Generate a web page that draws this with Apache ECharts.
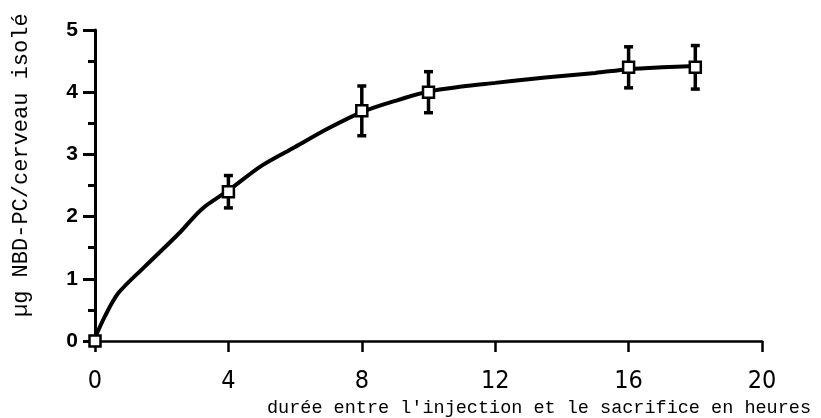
<!DOCTYPE html>
<html>
<head>
<meta charset="utf-8">
<script src="https://cdn.jsdelivr.net/npm/echarts@6/dist/echarts.min.js"></script>
<style>
  html, body { margin: 0; padding: 0; background: #fff; }
  #chart { width: 821px; height: 418px; }
</style>
</head>
<body>
<div id="chart"></div>
<script>
// Measured points: hours after injection, mean amount, and error half-width
const hours = [0, 4, 8, 10, 16, 18];
const means = [0, 2.4, 3.7, 4.0, 4.4, 4.4];
const errors = [0, 0.26, 0.4, 0.33, 0.33, 0.35];

// Fitted uptake curve
const fitHours = [0, 0.3, 0.7, 1.5, 2.5, 3.2, 4, 5, 6, 7, 8, 9, 10, 11, 12, 13, 14, 15, 16, 17, 18];
const fitValues = [0.05, 0.4, 0.77, 1.2, 1.72, 2.12, 2.42, 2.82, 3.12, 3.42, 3.68, 3.86, 4.01, 4.09, 4.15, 4.21, 4.26, 4.31, 4.37, 4.4, 4.42];

// Axis tick labels
const xTicks = [0, 4, 8, 12, 16, 20];
const yTicks = [0, 1, 2, 3, 4, 5];

const xTitle = "durée entre l'injection et le sacrifice en heures";
const yTitle = "µg NBD-PC/cerveau isolé";

const chart = echarts.init(document.getElementById('chart'), null, { renderer: 'canvas' });

const pointData = hours.map((h, i) => [h, means[i]]);
const errData = hours.map((h, i) => [h, means[i] - errors[i], means[i] + errors[i]]);
const fitData = fitHours.map((h, i) => [h, fitValues[i]]);

chart.setOption({
  animation: false,
  backgroundColor: '#ffffff',
  grid: { left: 95, right: 59, top: 30, bottom: 77 },
  xAxis: {
    type: 'value',
    min: 0, max: 20, interval: 4,
    axisLine: { show: true, onZero: false, lineStyle: { color: '#000', width: 2.5 } },
    axisTick: { show: true, length: 11, lineStyle: { color: '#000', width: 2.5 } },
    splitLine: { show: false },
    axisLabel: {
      color: '#000',
      fontFamily: '"Liberation Sans Narrow", "DejaVu Sans Condensed", "Liberation Sans", sans-serif',
      fontSize: 25,
      margin: 28,
      formatter: v => xTicks.includes(v) ? String(v) : ''
    }
  },
  yAxis: {
    type: 'value',
    min: 0, max: 5, interval: 1,
    axisLine: { show: true, lineStyle: { color: '#000', width: 3 } },
    axisTick: { show: true, length: 12, lineStyle: { color: '#000', width: 3 } },
    minorTick: { show: true, splitNumber: 2, length: 7, lineStyle: { color: '#000', width: 3 } },
    splitLine: { show: false },
    axisLabel: {
      color: '#000',
      fontFamily: '"Liberation Sans", Arial, sans-serif',
      fontWeight: 'bold',
      fontSize: 21,
      margin: 17,
      formatter: v => yTicks.includes(v) ? String(v) : ''
    }
  },
  graphic: [
    {
      type: 'text',
      left: 267, top: 399,
      style: {
        text: xTitle,
        fill: '#000',
        font: '18.5px "Liberation Mono", "DejaVu Sans Mono", monospace'
      }
    },
    {
      type: 'text',
      x: 10, y: 317,
      rotation: Math.PI / 2,
      style: {
        text: yTitle,
        fill: '#000',
        font: '22px "Liberation Mono", "DejaVu Sans Mono", monospace',
        textAlign: 'left',
        textVerticalAlign: 'top'
      }
    }
  ],
  series: [
    {
      type: 'line',
      data: fitData,
      smooth: 0.3,
      showSymbol: false,
      lineStyle: { color: '#000', width: 4 },
      z: 2
    },
    {
      type: 'custom',
      data: errData,
      z: 3,
      renderItem: function (params, api) {
        const x = api.value(0);
        const lo = api.coord([x, api.value(1)]);
        const hi = api.coord([x, api.value(2)]);
        if (Math.abs(hi[1] - lo[1]) < 1) return null;
        const cap = 4.5;
        const style = { stroke: '#000', lineWidth: 3.5 };
        return {
          type: 'group',
          children: [
            { type: 'line', shape: { x1: lo[0], y1: lo[1], x2: hi[0], y2: hi[1] }, style: style },
            { type: 'line', shape: { x1: lo[0] - cap, y1: lo[1], x2: lo[0] + cap, y2: lo[1] }, style: style },
            { type: 'line', shape: { x1: hi[0] - cap, y1: hi[1], x2: hi[0] + cap, y2: hi[1] }, style: style }
          ]
        };
      }
    },
    {
      type: 'scatter',
      data: pointData,
      symbol: 'rect',
      symbolSize: 11,
      itemStyle: { color: '#fff', borderColor: '#000', borderWidth: 2.5, opacity: 1 },
      z: 4
    }
  ]
});
</script>
</body>
</html>
